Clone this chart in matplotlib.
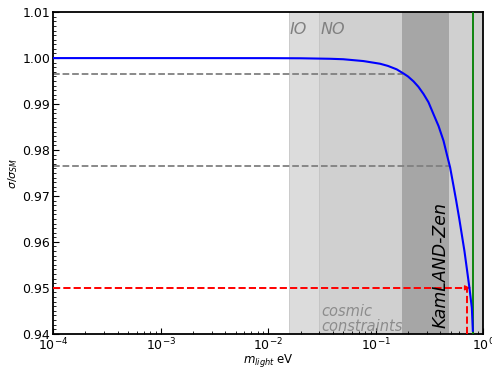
import matplotlib
matplotlib.use("Agg")
import matplotlib.pyplot as plt
from matplotlib.ticker import MultipleLocator, FormatStrFormatter

# curve (m_light in eV, sigma/sigma_SM)
m_light = [1e-4, 1e-3, 1e-2, 0.02, 0.0378, 0.05, 0.0771, 0.110, 0.13, 0.157, 0.1815,
           0.2, 0.225, 0.25, 0.279, 0.31, 0.345, 0.385, 0.428, 0.46, 0.493, 0.53,
           0.561, 0.6, 0.634, 0.67, 0.705, 0.746, 0.785, 0.802]
ratio = [1.0, 1.0, 0.99999, 0.99996, 0.99985, 0.99975, 0.99935, 0.99877, 0.9983,
         0.99755, 0.99665, 0.9960, 0.99494, 0.99375, 0.99218, 0.9904, 0.98781,
         0.9852, 0.98200, 0.9790, 0.97620, 0.9722, 0.96900, 0.9650, 0.96150,
         0.9580, 0.95420, 0.94994, 0.94562, 0.94065]

# shaded bounds (eV)
io_min = 0.0157
no_min = 0.030
kamland = (0.177, 0.48)
katrin = 0.8

# reference lines
gray_levels = [0.9966, 0.9766]
gray_ends = [0.18, 0.49]
red_level = 0.95
red_m = 0.705

fig = plt.figure(figsize=(4.92, 3.68), dpi=100)
ax = fig.add_axes([0.108, 0.093, 0.874, 0.874])

ax.axvspan(io_min, no_min, color="#dcdcdc", lw=0, zorder=0)
ax.axvspan(no_min, 1.0, color="#d0d0d0", lw=0, zorder=0)
ax.axvspan(kamland[0], kamland[1], color="#a6a6a6", lw=0, zorder=0)
ax.axvline(io_min, color="#c8c8c8", lw=0.6, zorder=0)
ax.axvline(no_min, color="#c4c4c4", lw=0.6, zorder=0)

for lvl, end in zip(gray_levels, gray_ends):
    ax.plot([1e-4, end], [lvl, lvl], ls="--", color="gray", lw=1.3, zorder=2)

ax.plot([1e-4, 0.72], [red_level, red_level], ls="--", color="red", lw=1.4, zorder=3)
ax.annotate("", xy=(0.755, red_level), xytext=(0.70, red_level),
            arrowprops=dict(arrowstyle="-|>", color="red", lw=1, mutation_scale=7), zorder=3)
ax.plot([red_m, red_m], [0.94, red_level], ls="--", color="red", lw=1.4, zorder=3)

ax.axvline(katrin, color="green", lw=1.3, zorder=3)
ax.plot(m_light, ratio, color="blue", lw=1.5, zorder=4)

ax.text(0.0158, 1.0062, "IO", color="gray", fontsize=11.5, style="italic", va="center")
ax.text(0.031, 1.0062, "NO", color="gray", fontsize=11.5, style="italic", va="center")
ax.text(0.031, 0.9405, "cosmic\nconstraints", color="#8c8c8c", fontsize=10.5,
        style="italic", linespacing=1.0)
ax.text(0.40, 0.9412, "KamLAND-Zen", color="black", fontsize=12.5, style="italic",
        rotation=90, va="bottom", ha="center")

ax.set_xscale("log")
ax.set_xlim(1e-4, 1.0)
ax.set_ylim(0.94, 1.01)
ax.yaxis.set_major_locator(MultipleLocator(0.01))
ax.yaxis.set_minor_locator(MultipleLocator(0.001))
ax.yaxis.set_major_formatter(FormatStrFormatter("%.2f"))
ax.tick_params(which="both", direction="in", labelsize=9, pad=2)
ax.tick_params(which="major", length=4)
ax.tick_params(which="minor", length=2.5)
for s in ax.spines.values():
    s.set_linewidth(1.3)

ax.set_ylabel(r"$\sigma/\sigma_{SM}$", fontsize=8, labelpad=2)
ax.set_xlabel(r"$m_{light}$ eV", fontsize=8.5, labelpad=-1)

fig.savefig("out.png", dpi=100)
